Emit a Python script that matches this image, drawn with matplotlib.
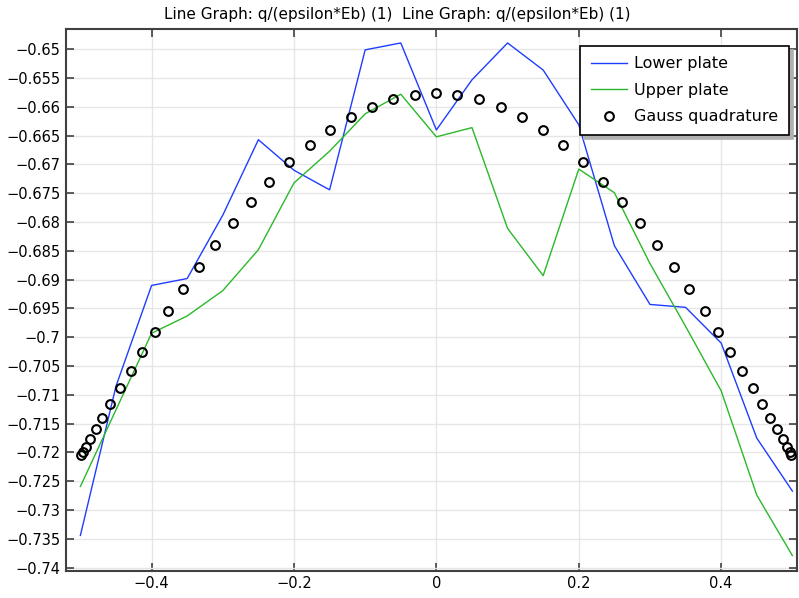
import matplotlib
matplotlib.use("Agg")
import matplotlib.pyplot as plt

# ---- data ----
x_nodes = [-0.50, -0.45, -0.40, -0.35, -0.30, -0.25, -0.20, -0.15, -0.10, -0.05,
           0.00, 0.05, 0.10, 0.15, 0.20, 0.25, 0.30, 0.35, 0.40, 0.45, 0.50]
lower_plate = [-0.7344, -0.7085, -0.6910, -0.6898, -0.6788, -0.6657, -0.6710, -0.6744,
               -0.6501, -0.6489, -0.6640, -0.6553, -0.6489, -0.6536, -0.6631, -0.6841,
               -0.6943, -0.6948, -0.7010, -0.7175, -0.7267]
upper_plate = [-0.7259, -0.7126, -0.6993, -0.6963, -0.6919, -0.6848, -0.6732, -0.6677,
               -0.6612, -0.6578, -0.6652, -0.6636, -0.6811, -0.6893, -0.6708, -0.6749,
               -0.6872, -0.6981, -0.7093, -0.7274, -0.7379]

gauss_x = [-0.4985, -0.4966, -0.4924, -0.4864, -0.4784, -0.4690, -0.4577, -0.4447,
           -0.4296, -0.4128, -0.3959, -0.3768, -0.3552, -0.3333, -0.3103, -0.2860,
           -0.2607, -0.2344, -0.2063, -0.1782, -0.1493, -0.1198, -0.0903, -0.0603,
           -0.0294, 0.0000, 0.0294, 0.0603, 0.0903, 0.1198, 0.1493, 0.1782, 0.2063,
           0.2344, 0.2607, 0.2860, 0.3103, 0.3333, 0.3552, 0.3768, 0.3959, 0.4128,
           0.4296, 0.4447, 0.4577, 0.4690, 0.4784, 0.4864, 0.4924, 0.4966, 0.4985]
gauss_y = [-0.72038, -0.71996, -0.71900, -0.71770, -0.71597, -0.71396, -0.71158, -0.70880,
           -0.70580, -0.70255, -0.69908, -0.69548, -0.69166, -0.68784, -0.68403, -0.68010,
           -0.67646, -0.67298, -0.66962, -0.66661, -0.66401, -0.66175, -0.65996, -0.65863,
           -0.65788, -0.65753, -0.65788, -0.65863, -0.65996, -0.66175, -0.66401, -0.66661,
           -0.66962, -0.67298, -0.67646, -0.68010, -0.68403, -0.68784, -0.69166, -0.69548,
           -0.69908, -0.70255, -0.70580, -0.70880, -0.71158, -0.71396, -0.71597, -0.71770,
           -0.71900, -0.71996, -0.72038]

x_ticks = [-0.4, -0.2, 0, 0.2, 0.4]
x_ticklabels = ["\u22120.4", "\u22120.2", "0", "0.2", "0.4"]
y_ticks = [-0.65, -0.655, -0.66, -0.665, -0.67, -0.675, -0.68, -0.685, -0.69, -0.695,
           -0.70, -0.705, -0.71, -0.715, -0.72, -0.725, -0.73, -0.735, -0.74]
y_ticklabels = ["\u22120.65", "\u22120.655", "\u22120.66", "\u22120.665", "\u22120.67",
                "\u22120.675", "\u22120.68", "\u22120.685", "\u22120.69", "\u22120.695",
                "\u22120.7", "\u22120.705", "\u22120.71", "\u22120.715", "\u22120.72",
                "\u22120.725", "\u22120.73", "\u22120.735", "\u22120.74"]
title = "Line Graph: q/(epsilon*Eb) (1)  Line Graph: q/(epsilon*Eb) (1)"

# ---- figure ----
W, H = 799, 598
fig = plt.figure(figsize=(W / 100, H / 100), dpi=100)
left, right, top, bottom = 66, 797, 28.5, 570.5
ax = fig.add_axes([left / W, 1 - bottom / H, (right - left) / W, (bottom - top) / H])

ax.plot(x_nodes, lower_plate, color="#1f3dff", lw=1.0, label="Lower plate", zorder=3)
ax.plot(x_nodes, upper_plate, color="#2bb82b", lw=1.0, label="Upper plate", zorder=3)
ax.plot(gauss_x, gauss_y, linestyle="none", marker="o", markersize=6.3,
        markerfacecolor="none", markeredgecolor="black", markeredgewidth=1.5,
        label="Gauss quadrature", zorder=4)

ax.set_xlim(-0.5202, 0.5065)
ax.set_ylim(-0.74049, -0.64639)
ax.set_xticks(x_ticks)
ax.set_xticklabels(x_ticklabels)
ax.set_yticks(y_ticks)
ax.set_yticklabels(y_ticklabels)

ax.grid(True, color="#e6e6e6", lw=1.0, zorder=0)
ax.set_axisbelow(True)
for s in ax.spines.values():
    s.set_color("#404040")
    s.set_linewidth(1.5)
ax.tick_params(direction="in", length=6, width=1.2, color="#404040",
               top=True, right=True, labelsize=10.5, labelcolor="black", pad=4)

leg = ax.legend(loc="upper right", bbox_to_anchor=(0.989, 0.968), borderaxespad=0,
                fancybox=False, shadow={"color": "#b0b0b0", "alpha": 1.0, "ox": 3, "oy": -3},
                framealpha=1, edgecolor="black",
                fontsize=11.5, handlelength=2.3, handletextpad=0.45, labelspacing=0.72,
                borderpad=0.65)
leg.get_frame().set_linewidth(1.2)

fig.text(397 / W, 1 - 14.5 / H, title, ha="center", va="center", fontsize=11)

fig.savefig("out.png", dpi=100)
